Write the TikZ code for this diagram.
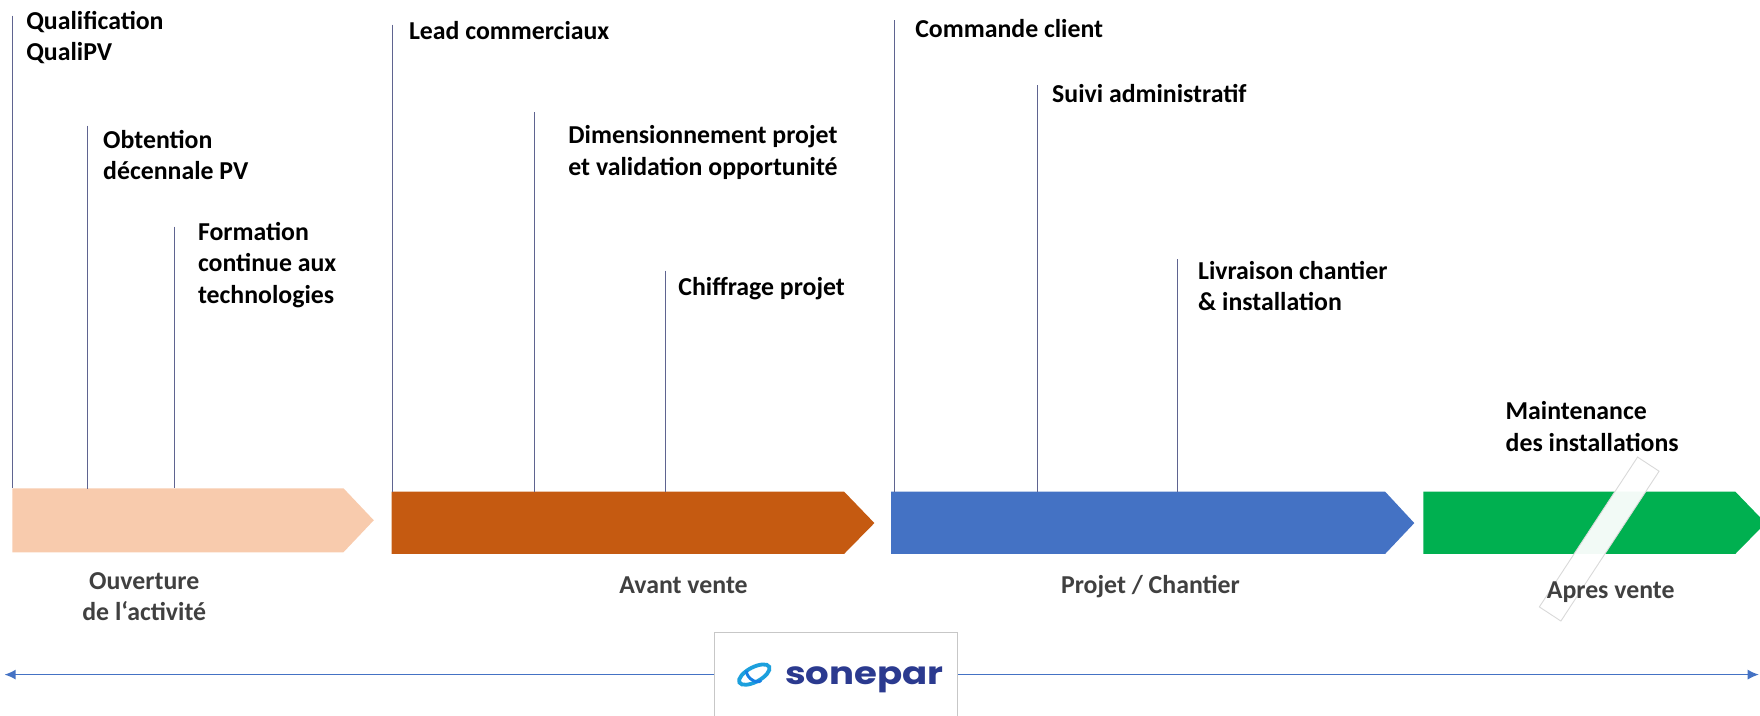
\documentclass[tikz,border=0pt]{standalone}
\usepackage{fontspec}
\setmainfont{Carlito}
\newfontfamily\logofont{Poppins}
\usetikzlibrary{arrows.meta}
\definecolor{peach}{HTML}{F8CBAD}
\definecolor{rust}{HTML}{C55A11}
\definecolor{phblue}{HTML}{4472C4}
\definecolor{phgreen}{HTML}{00B050}
\definecolor{linec}{HTML}{5F6490}
\definecolor{graytxt}{HTML}{404040}
\definecolor{navy}{HTML}{2B3A8F}
\definecolor{cyanlogo}{HTML}{1CA0DD}
\begin{document}
\begin{tikzpicture}[x=0.5pt,y=-0.5pt,
  vline/.style={draw=linec, line width=0.55pt},
  toplabel/.style={anchor=base west, inner sep=0pt, align=left,
    font=\bfseries\fontsize{11.5}{14}\selectfont, text=black},
  phaselabel/.style={anchor=base, inner sep=0pt, align=center,
    font=\bfseries\fontsize{11.5}{14}\selectfont, text=graytxt},
  axis/.style={draw=phblue, line width=0.65pt, -{Latex[length=5pt,width=4.5pt]}},
]
\useasboundingbox (0,0) rectangle (1568,637);
\clip (0,0) rectangle (1568,637);

% phase arrows
\fill[peach] (11,435) -- (306,435) -- (333,463.5) -- (306,492) -- (11,492) -- cycle;
\fill[rust] (349,438) -- (752,438) -- (779,466) -- (752,493.5) -- (349,493.5) -- cycle;
\fill[phblue] (794,438) -- (1234,438) -- (1260,466) -- (1234,493.5) -- (794,493.5) -- cycle;
\fill[phgreen] (1268,438) -- (1546,438) -- (1573,466) -- (1546,493.5) -- (1268,493.5) -- cycle;

% white band across green arrow
\filldraw[fill=white, fill opacity=0.95, draw=black!15, line width=0.4pt]
  (1458.9,407.2) -- (1478.1,419.8) -- (1390.6,553.3) -- (1371.4,540.7) -- cycle;

% milestone coordinates
\coordinate (t1) at (11,14);   \coordinate (b1) at (11,435);
\coordinate (t2) at (78,112);  \coordinate (b2) at (78,436);
\coordinate (t3) at (155.5,202); \coordinate (b3) at (155.5,435);
\coordinate (t4) at (350,22);  \coordinate (b4) at (350,438);
\coordinate (t5) at (476,100); \coordinate (b5) at (476,438);
\coordinate (t6) at (593,241); \coordinate (b6) at (593,438);
\coordinate (t7) at (797,18);  \coordinate (b7) at (797,438);
\coordinate (t8) at (924,76);  \coordinate (b8) at (924,438);
\coordinate (t9) at (1049,231); \coordinate (b9) at (1049,438);

\foreach \i in {1,...,9} \draw[vline] (t\i) -- (b\i);

% milestone labels (base = baseline of the last line)
\node[toplabel] (m1) at (23,54) {Qualification\\QualiPV};
\node[toplabel] (m2) at (91.5,160) {Obtention\\décennale PV};
\node[toplabel] (m3) at (176,270) {Formation\\continue aux\\technologies};
\node[toplabel] (m4) at (364,35.5) {Lead commerciaux};
\node[toplabel] (m5) at (506,156) {Dimensionnement projet\\et validation opportunité};
\node[toplabel] (m6) at (604,263) {Chiffrage projet};
\node[toplabel] (m7) at (815,33.5) {Commande client};
\node[toplabel] (m8) at (937,91.5) {Suivi administratif};
\node[toplabel] (m9) at (1067,277) {Livraison chantier\\\& installation};
\node[toplabel] (m10) at (1341,402) {Maintenance\\des installations};

% phase labels
\node[phaselabel] (p1) at (128.5,553) {Ouverture\\de l‘activité};
\node[phaselabel] (p2) at (609,529) {Avant vente};
\node[phaselabel] (p3) at (1025,529) {Projet / Chantier};
\node[phaselabel] (p4) at (1435,533) {Apres vente};

% bottom axis and logo box
\node[draw=black!22, fill=white, line width=0.4pt, anchor=north west,
  minimum width=108.5pt, minimum height=45pt, inner sep=0pt] (logo) at (636,563) {};
\coordinate (axl) at (4,601);
\coordinate (axr) at (1567,601);
\draw[axis] (logo.west |- 0,601) -- (axl);
\draw[axis] (logo.east |- 0,601) -- (axr);

% logo
\begin{scope}[rotate around={28:(672,601)}]
  \draw[cyanlogo, line width=1.7pt] (672,601) ellipse [x radius=15, y radius=6.5];
\end{scope}
\begin{scope}[rotate around={-40:(672,601)}]
  \draw[cyanlogo!80!blue, line width=1.3pt] (680,601) arc[start angle=0, end angle=160, x radius=8, y radius=5];
\end{scope}
\node[anchor=base west, inner sep=0pt, text=navy,
  font=\logofont\bfseries\fontsize{14}{15}\selectfont] (logotext) at (699,610)
  {\scalebox{1.18}[1]{sonepar}};
\end{tikzpicture}
\end{document}
